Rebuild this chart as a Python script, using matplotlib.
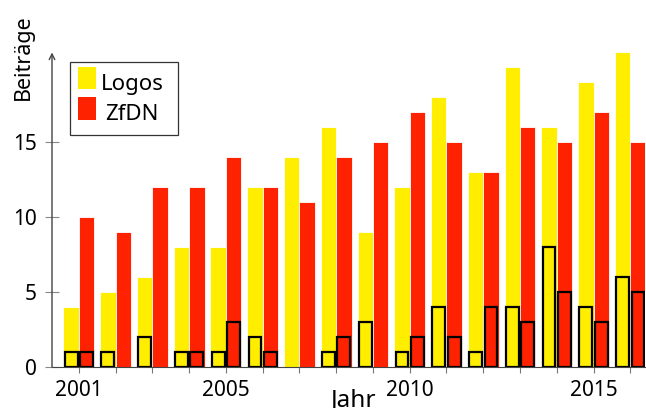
import numpy as np
import matplotlib.pyplot as plt
from matplotlib.patches import Rectangle

plt.rcParams['font.family'] = ['Noto Sans', 'DejaVu Sans']

years = np.arange(2001, 2017)
logos = [4, 5, 6, 8, 8, 12, 14, 16, 9, 12, 18, 13, 20, 16, 19, 21]
zfdn = [10, 9, 12, 12, 14, 12, 11, 14, 15, 17, 15, 13, 16, 15, 17, 15]
# outlined sub-bars
logos_sub = [1, 1, 2, 1, 1, 2, 0, 1, 3, 1, 4, 1, 4, 8, 4, 6]
zfdn_sub = [1, 0, 0, 1, 3, 1, 0, 2, 0, 2, 2, 4, 3, 5, 3, 5]
labelled_years = [2001, 2005, 2010, 2015]
series_names = ['Logos', 'ZfDN']

yellow = '#ffee00'
red = '#ff2200'
w = 0.42
W, H = 646, 408

fig = plt.figure(figsize=(W / 100, H / 100), dpi=100)
ax = fig.add_axes([52 / W, 1 - 367 / H, 593 / W, 319 / H])

ax.bar(years - w / 2, logos, w, color=yellow, edgecolor='white', linewidth=0.6)
ax.bar(years + w / 2, zfdn, w, color=red, edgecolor='white', linewidth=0.6)

ws = 0.35
for yr, a, b in zip(years, logos_sub, zfdn_sub):
    if a > 0:
        ax.bar(yr - w / 2, a, ws, color=yellow, edgecolor='black', linewidth=1.6)
    if b > 0:
        ax.bar(yr + w / 2, b, ws, color=red, edgecolor='black', linewidth=1.6)

ax.set_xlim(2000.27, 2016.4)
ax.set_ylim(0, 21.3)

for s in ['top', 'right', 'left']:
    ax.spines[s].set_visible(False)
ax.spines['bottom'].set_color('#444444')
ax.annotate('', xy=(0, 21.0), xytext=(0, 0), xycoords=('axes fraction', 'data'),
            arrowprops=dict(arrowstyle='->', color='#444444', lw=1, shrinkA=0, shrinkB=0))

ax.set_xticks(years)
ax.set_xticklabels([str(y) if y in labelled_years else '' for y in years])
ax.tick_params(axis='x', direction='out', length=4, color='#777777', labelsize=15, pad=5)
ax.set_yticks([0, 5, 10, 15])
ax.tick_params(axis='y', direction='inout', length=10, color='#888888', labelsize=15, pad=6)

ax.set_ylabel('Beiträge', fontsize=15.5)
ax.yaxis.set_label_coords(-0.049, 0.972)
ax.yaxis.label.set_verticalalignment('center')
fig.text(331 / W, 1 - 388 / H, 'Jahr', fontsize=17.5, ha='left', va='top')

# legend box with centred labels
def px(x, y):
    return x / W, 1 - y / H

fig.add_artist(Rectangle(px(70, 135), 108 / W, 73 / H, transform=fig.transFigure,
                         facecolor='white', edgecolor='#333333', lw=0.9, zorder=3))
for i, (name, col) in enumerate(zip(series_names, [yellow, red])):
    top = 67 + i * 30.5
    fig.add_artist(Rectangle(px(78, top + 22), 18 / W, 22 / H, transform=fig.transFigure,
                             facecolor=col, edgecolor='none', zorder=4))
    fig.text(*px(132, top + 23), name, fontsize=16, ha='center', va='baseline', zorder=5)

fig.savefig('out.png', dpi=100)
